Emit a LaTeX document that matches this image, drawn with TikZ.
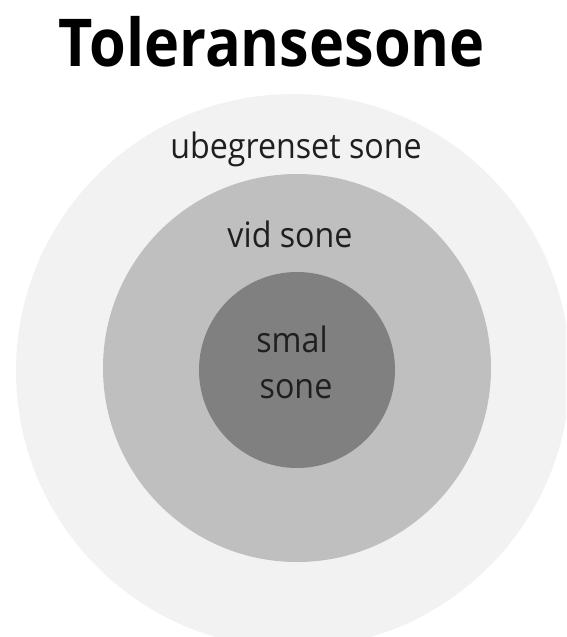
\documentclass[tikz,border=0pt]{standalone}
\usepackage{fontspec}
\setmainfont{Open Sans}[FakeStretch=0.92]
\newfontfamily\tittelfont{Open Sans}[FakeStretch=0.9]
\usetikzlibrary{positioning}
\definecolor{ytregraa}{HTML}{F2F2F2}
\definecolor{midtgraa}{HTML}{BFBFBF}
\definecolor{indregraa}{HTML}{808080}
\tikzset{
  sone/.style={circle, inner sep=0pt},
  etikett/.style={font=\fontsize{35}{46}\selectfont, text=black!88, anchor=base, inner sep=0pt}
}
\begin{document}
\begin{tikzpicture}[x=1pt,y=-1pt]
    % Ramme
    \clip (0,0) rectangle (566,637);
    % Draw zones
    \node[sone, fill=ytregraa, minimum size=554pt] (ytre) at (293,371) {};
    \node[sone, fill=midtgraa, minimum size=388pt] (midt) at (297,368) {};
    \node[sone, fill=indregraa, minimum size=196pt] (indre) at (297,370) {};
    % Tekst
    \node[font=\tittelfont\bfseries\fontsize{66}{80}\selectfont, anchor=base, inner sep=0pt] (tittel) at (272,66) {Toleransesone};
    \node[etikett] (ubegrenset) at (296,158) {ubegrenset sone};
    \node[etikett] (vid) at (290,247) {vid sone};
    \node[etikett] (smal) at (292,352) {smal};
    \node[etikett] (smalsone) at (296,398) {sone};
\end{tikzpicture}
\end{document}
